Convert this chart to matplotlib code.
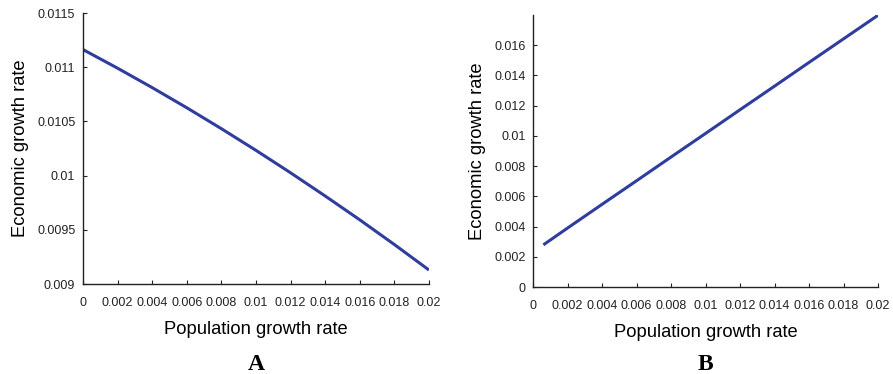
import matplotlib
matplotlib.use("Agg")
import matplotlib.pyplot as plt

plt.rcParams['font.family'] = ['Liberation Sans', 'DejaVu Sans']

# Panel A: economic growth falls as population growth rises
pop_a = [0.0, 0.002, 0.004, 0.006, 0.008, 0.01, 0.012, 0.014, 0.016, 0.018, 0.02]
econ_a = [0.011163, 0.010991, 0.010812, 0.010626, 0.010433, 0.010233,
          0.010026, 0.009812, 0.009592, 0.009364, 0.009129]

# Panel B: economic growth rises with population growth
pop_b = [0.0006, 0.002, 0.004, 0.006, 0.008, 0.01, 0.012, 0.014, 0.016, 0.018, 0.02]
econ_b = [0.00279, 0.00390, 0.00547, 0.00703, 0.00860, 0.01016, 0.01173,
          0.01329, 0.01486, 0.01642, 0.01798]

x_ticks = [0, 0.002, 0.004, 0.006, 0.008, 0.01, 0.012, 0.014, 0.016, 0.018, 0.02]
x_labels = ['0', '0.002', '0.004', '0.006', '0.008', '0.01', '0.012', '0.014',
            '0.016', '0.018', '0.02']
yticks_a = [0.009, 0.0095, 0.01, 0.0105, 0.011, 0.0115]
ylabels_a = ['0.009', '0.0095', '0.01', '0.0105', '0.011', '0.0115']
yticks_b = [0, 0.002, 0.004, 0.006, 0.008, 0.01, 0.012, 0.014, 0.016]
ylabels_b = ['0', '0.002', '0.004', '0.006', '0.008', '0.01', '0.012', '0.014', '0.016']

line_color = '#2f3d9e'

fig = plt.figure(figsize=(8.93, 3.74), dpi=100)
ax_a = fig.add_axes([0.0929, 0.2406, 0.3875, 0.7246])
ax_b = fig.add_axes([0.5969, 0.2326, 0.3863, 0.7273])


def style_axes(ax, yticks, ylabels, ylim):
    ax.set_xlim(0, 0.02)
    ax.set_ylim(*ylim)
    ax.set_xticks(x_ticks)
    ax.set_xticklabels(x_labels)
    ax.set_yticks(yticks)
    ax.set_yticklabels(ylabels)
    for side in ('top', 'right'):
        ax.spines[side].set_visible(False)
    for side in ('left', 'bottom'):
        ax.spines[side].set_linewidth(1.0)
        ax.spines[side].set_color('#222222')
    ax.tick_params(direction='in', length=3, width=0.8, labelsize=9,
                   colors='#222222')
    ax.tick_params(axis='x', pad=9)
    ax.tick_params(axis='y', pad=5.5)
    ax.set_xlabel('Population growth rate', fontsize=13.2, labelpad=9)
    ax.set_ylabel('Economic growth rate', fontsize=13.2, labelpad=6)


ax_a.plot(pop_a, econ_a, color=line_color, lw=2.2, solid_capstyle='butt')
style_axes(ax_a, yticks_a, ylabels_a, (0.009, 0.0115))

ax_b.plot(pop_b, econ_b, color=line_color, lw=2.2, solid_capstyle='butt')
style_axes(ax_b, yticks_b, ylabels_b, (0, 0.018))

fig.text(0.2865, 0.012, 'A', fontsize=17, fontweight='bold',
         family='Liberation Serif', ha='center')
fig.text(0.79, 0.012, 'B', fontsize=17, fontweight='bold',
         family='Liberation Serif', ha='center')

fig.savefig('out.png', dpi=100)
